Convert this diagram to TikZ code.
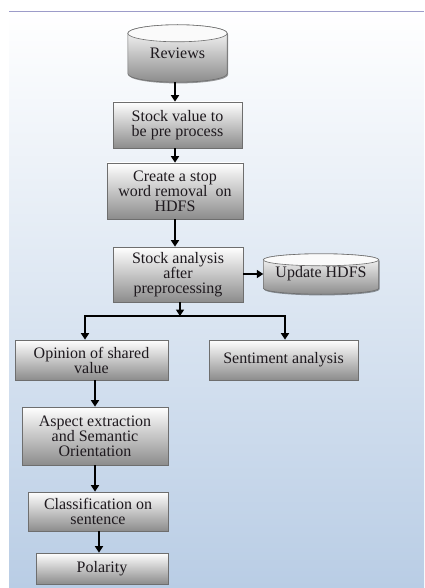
\documentclass[tikz,border=0pt]{standalone}
\usepackage{fontspec}
\setmainfont{Liberation Serif}
\usetikzlibrary{arrows.meta,calc,shadows}
\definecolor{bgblue}{RGB}{185,205,229}
\definecolor{boxgray}{RGB}{140,140,140}
\definecolor{edgegray}{RGB}{110,110,110}
\definecolor{txt}{RGB}{30,25,30}
\pgfdeclarelayer{back}
\pgfdeclarelayer{mid}
\pgfsetlayers{back,mid,main}
\tikzset{
  box/.style={draw=edgegray, line width=0.6pt, top color=white, bottom color=boxgray,
    align=center, inner sep=1pt, text=txt,
    font=\fontsize{16}{15}\selectfont,
    drop shadow={shadow xshift=0.8pt, shadow yshift=-1.2pt, opacity=0.45, fill=black}},
  cyltext/.style={inner sep=0pt, text=txt, font=\fontsize{16}{15}\selectfont},
  cylbody/.style={draw=edgegray, line width=0.6pt, top color=white, bottom color=boxgray},
  cyltop/.style={draw=edgegray, line width=0.6pt, fill=white!96!gray},
  arr/.style={line width=1.9pt, -{Triangle[length=6.5pt,width=8pt]}},
  ln/.style={line width=1.9pt}
}
\begin{document}
\begin{tikzpicture}[x=1pt,y=1pt]
\useasboundingbox (0,0) rectangle (424,-588);
\begin{pgfonlayer}{back}
  \fill[white] (0,0) rectangle (424,-588);
  \shade[top color=white, bottom color=bgblue] (9,-12) rectangle (424,-588);
  \draw[gray!70!blue!60, line width=1pt] (9,-12) -- (424,-12);
\end{pgfonlayer}

% cylinders
\node[cyltext, minimum width=99, minimum height=57] (rev) at (177.5,-53.5) {Reviews};
\node[cyltext, minimum width=115, minimum height=40] (upd) at (321,-274) {Update HDFS};
\begin{pgfonlayer}{mid}
  \foreach \nm/\rr in {rev/8.5, upd/6}{
    \path let \p1=(\nm.north west), \p2=(\nm.south east) in
      [cylbody, drop shadow={shadow xshift=0.8pt, shadow yshift=-1.2pt, opacity=0.4, fill=black}]
      (\x1,\y1-\rr pt) -- (\x1,\y2+\rr pt)
      arc[start angle=180,end angle=360,x radius={(\x2-\x1)/2},y radius=\rr pt]
      -- (\x2,\y1-\rr pt)
      arc[start angle=0,end angle=180,x radius={(\x2-\x1)/2},y radius=\rr pt] -- cycle;
    \path let \p1=(\nm.north west), \p2=(\nm.south east) in
      [cyltop] ({(\x1+\x2)/2},\y1-\rr pt) ellipse[x radius={(\x2-\x1)/2},y radius=\rr pt];
  }
\end{pgfonlayer}

% boxes
\node[box, minimum width=129, minimum height=46] (b2) at (177.5,-125) {Stock value to\\be pre process};
\node[box, minimum width=136, minimum height=56] (b3) at (175,-191) {Create a stop\\word removal\ \ on\\HDFS};
\node[box, minimum width=130, minimum height=55] (b4) at (178,-274.5) {Stock analysis\\after\\preprocessing};
\node[box, minimum width=153, minimum height=40] (b5) at (91.5,-360) {Opinion of shared\\value};
\node[box, minimum width=149, minimum height=40] (b6) at (283.5,-360) {Sentiment analysis};
\node[box, minimum width=146, minimum height=58] (b7) at (95,-436) {Aspect extraction\\and Semantic\\Orientation};
\node[box, minimum width=140, minimum height=39] (b8) at (98,-511.5) {Classification on\\sentence};
\node[box, minimum width=132, minimum height=31] (b9) at (102,-568.5) {Polarity};

% connectors
\coordinate (x1) at (175,0);
\draw[arr] (rev.south -| x1) -- (b2.north -| x1);
\draw[arr] (b2.south -| x1) -- (b3.north -| x1);
\draw[arr] (b3.south -| x1) -- (b4.north -| x1);
\draw[arr] (b4.east |- upd.west) -- (upd.west);
\coordinate (j) at (180,-316);
\coordinate (jl) at (85,-316);
\coordinate (jr) at (285,-316);
\draw[arr] (b4.south -| j) -- (j);
\draw[ln] ([xshift=-0.95pt]jl) -- ([xshift=0.95pt]jr);
\draw[arr] (jl) -- (b5.north -| jl);
\draw[arr] (jr) -- (b6.north -| jr);
\draw[arr] (b7.north |- b5.south) -- (b7.north);
\draw[arr] (b7.south) -- (b7.south |- b8.north);
\coordinate (x2) at (99,0);
\draw[arr] (b8.south -| x2) -- (b9.north -| x2);
\end{tikzpicture}
\end{document}
